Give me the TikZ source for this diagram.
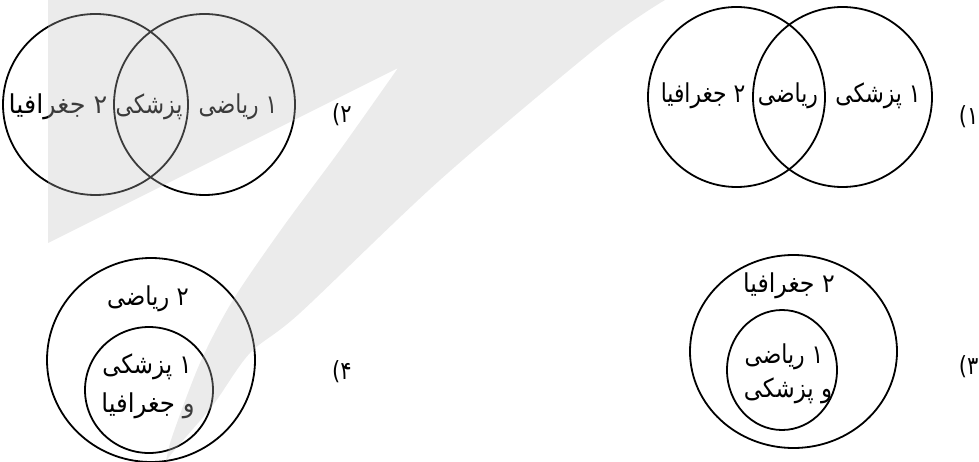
\documentclass[tikz,border=0pt]{standalone}
\usepackage{graphicx}
\usepackage{fontspec}
\newfontfamily\arabicfont[Script=Arabic]{DejaVu Sans}
\TeXXeTstate=1
\newcommand{\rtltext}[2][0.84]{\scalebox{#1}[1]{\beginR #2\endR}}
\begin{document}
\begin{tikzpicture}[x=1pt,y=-1pt,
  venn/.style={line width=1.8pt, draw=black},
  txt/.style={font=\arabicfont\fontsize{26}{30}\selectfont, inner sep=0pt, anchor=base},
  optlbl/.style={font=\arabicfont\fontsize{25}{30}\selectfont, inner sep=0pt},
  wm/.style={fill={rgb,255:red,192;green,192;blue,192}, fill opacity=0.31}]
\useasboundingbox (0,0) rectangle (979,462);
% option 1
\draw[venn] (736.5,97) ellipse (88.5 and 90);
\draw[venn] (842.5,97) ellipse (89.5 and 90);
\node[txt] (o1a) at (703,103) {\rtltext{۲ جغرافیا}};
\node[txt] (o1b) at (788,103) {\rtltext{ریاضی}};
\node[txt] (o1c) at (878,103) {\rtltext{۱ پزشکی}};
\node[optlbl, anchor=east] (l1) at (978.5,117) {\scalebox{0.84}[1]{۱)}};
% option 2
\draw[venn] (95.5,104.5) ellipse (92.5 and 90.5);
\draw[venn] (204.5,104.5) ellipse (90.5 and 90.5);
\node[txt] (o2a) at (58,114) {\rtltext[0.98]{۲ جغرافیا}};
\node[txt] (o2b) at (149,114) {\rtltext{پزشکی}};
\node[txt] (o2c) at (238,114) {\rtltext{۱ ریاضی}};
\node[optlbl, anchor=west] (l2) at (332,115) {\scalebox{0.84}[1]{۲)}};
% option 3
\draw[venn] (793.5,351.5) ellipse (103.5 and 96.5);
\draw[venn] (782,370) ellipse (55 and 60);
\node[txt] (o3a) at (789,292) {\rtltext[0.91]{۲ جغرافیا}};
\node[txt] (o3b) at (784,363) {\rtltext{۱ ریاضی}};
\node[txt] (o3c) at (788,397) {\rtltext[0.88]{و پزشکی}};
\node[optlbl, anchor=east] (l3) at (978.5,367) {\scalebox{0.84}[1]{۳)}};
% option 4
\draw[venn] (151,360) ellipse (104 and 102);
\draw[venn] (149,390) ellipse (64 and 63);
\node[txt] (o4a) at (148,305) {\rtltext[0.87]{۲ ریاضی}};
\node[txt] (o4b) at (147,373) {\rtltext[0.88]{۱ پزشکی}};
\node[txt] (o4c) at (148,412) {\rtltext[0.94]{و جغرافیا}};
\node[optlbl, anchor=west] (l4) at (332,372) {\scalebox{0.84}[1]{۴)}};
% watermark
\fill[wm] (48,0) -- plot[smooth] coordinates {(665,0) (600,45) (440,180) (300,313) (250,353) (213,405) (173,452) (166,462)}
  -- plot[smooth] coordinates {(166,462) (172,437) (200,363) (233,300) (283,227) (340,150) (398,68)}
  -- (48,243) -- cycle;
\end{tikzpicture}
\end{document}
